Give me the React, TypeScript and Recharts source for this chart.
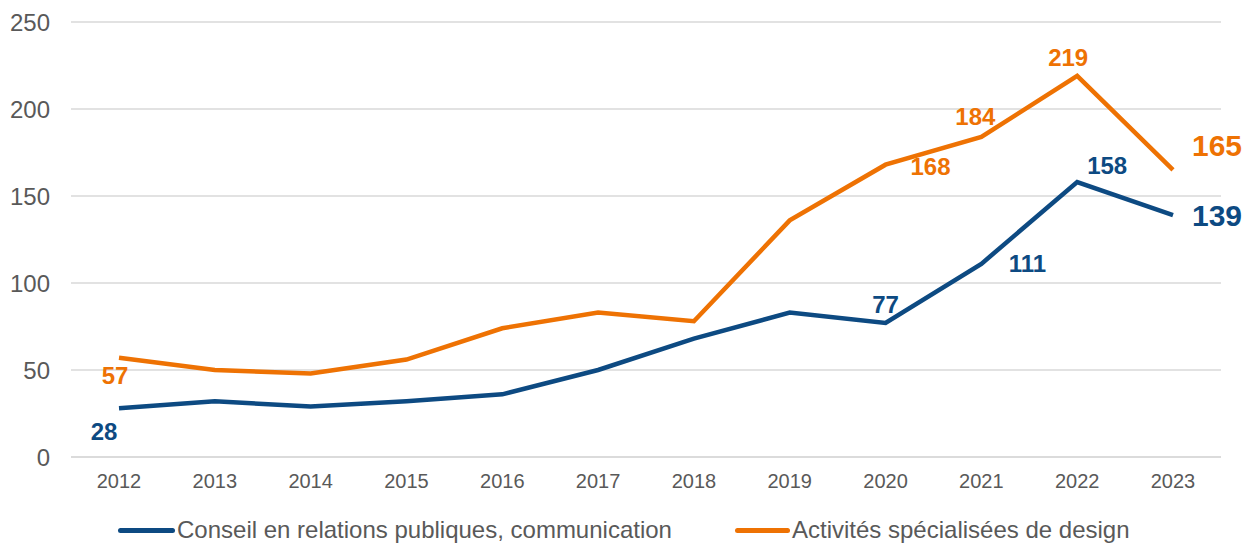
import React from 'react';
import { LineChart, Line, XAxis, YAxis, CartesianGrid, Legend, LabelList } from 'recharts';

const years = ['2012', '2013', '2014', '2015', '2016', '2017', '2018', '2019', '2020', '2021', '2022', '2023'];
const conseil = [28, 32, 29, 32, 36, 50, 68, 83, 77, 111, 158, 139];
const design = [57, 50, 48, 56, 74, 83, 78, 136, 168, 184, 219, 165];
const yTicks = [0, 50, 100, 150, 200, 250];

const BLUE = '#0D4A82';
const ORANGE = '#EE7203';
const FONT = '"Liberation Sans", Arial, sans-serif';

// which points get a value label, and where it sits relative to the point
const blueLabels: Record<number, { dx: number; dy: number; size: number }> = {
  0: { dx: -15, dy: 23, size: 24 },
  8: { dx: 0, dy: -19, size: 24 },
  9: { dx: 46, dy: 0, size: 24 },
  10: { dx: 30, dy: -17, size: 24 },
  11: { dx: 44, dy: 0, size: 30 },
};
const orangeLabels: Record<number, { dx: number; dy: number; size: number }> = {
  0: { dx: -4, dy: 18, size: 24 },
  8: { dx: 45, dy: 2, size: 24 },
  9: { dx: -6, dy: -20, size: 24 },
  10: { dx: -9, dy: -18, size: 24 },
  11: { dx: 44, dy: -24, size: 30 },
};

const data = years.map((y, i) => ({ year: y, conseil: conseil[i], design: design[i] }));

const makeLabel = (cfg: typeof blueLabels, color: string) => (props: any) => {
  const { x, y, value, index } = props;
  const c = cfg[index];
  if (!c) return null;
  return (
    <text
      x={x + c.dx}
      y={y + c.dy}
      textAnchor="middle"
      dominantBaseline="central"
      fill={color}
      fontSize={c.size}
      fontWeight="bold"
      fontFamily={FONT}
    >
      {value}
    </text>
  );
};

const LegendContent = () => (
  <div style={{ position: 'relative', height: 40, fontFamily: FONT, fontSize: 24, color: '#595959' }}>
    <div style={{ position: 'absolute', left: 118, top: 15, display: 'flex', alignItems: 'center' }}>
      <span style={{ display: 'inline-block', width: 57, height: 5, background: BLUE, borderRadius: 3, marginRight: 2 }} />
      <span>Conseil en relations publiques, communication</span>
    </div>
    <div style={{ position: 'absolute', left: 735, top: 15, display: 'flex', alignItems: 'center' }}>
      <span style={{ display: 'inline-block', width: 55, height: 5, background: ORANGE, borderRadius: 3, marginRight: 2 }} />
      <span>Activités spécialisées de design</span>
    </div>
  </div>
);

export default function App() {
  return (
    <div style={{ position: 'absolute', left: 0, top: 0, background: '#fff' }}>
      <LineChart width={1245} height={543} data={data} margin={{ top: 22, right: 24, left: 0, bottom: 0 }}>
        <CartesianGrid vertical={false} stroke="#D9D9D9" strokeWidth={1.5} />
        <XAxis
          dataKey="year"
          padding={{ left: 48, right: 48 }}
          axisLine={{ stroke: '#D9D9D9', strokeWidth: 1.5 }}
          tickLine={false}
          tickMargin={11}
          height={44}
          tick={{ fill: '#595959', fontSize: 20, fontFamily: FONT }}
        />
        <YAxis
          domain={[0, 250]}
          ticks={yTicks}
          width={71}
          axisLine={false}
          tickLine={false}
          tickMargin={15}
          tick={{ fill: '#595959', fontSize: 24, fontFamily: FONT }}
        />
        <Legend verticalAlign="bottom" height={42} content={<LegendContent />} />
        <Line
          dataKey="conseil"
          name="Conseil en relations publiques, communication"
          stroke={BLUE}
          strokeWidth={4.5}
          dot={false}
          isAnimationActive={false}
        >
          <LabelList dataKey="conseil" content={makeLabel(blueLabels, BLUE)} />
        </Line>
        <Line
          dataKey="design"
          name="Activités spécialisées de design"
          stroke={ORANGE}
          strokeWidth={4.5}
          dot={false}
          isAnimationActive={false}
        >
          <LabelList dataKey="design" content={makeLabel(orangeLabels, ORANGE)} />
        </Line>
      </LineChart>
    </div>
  );
}
